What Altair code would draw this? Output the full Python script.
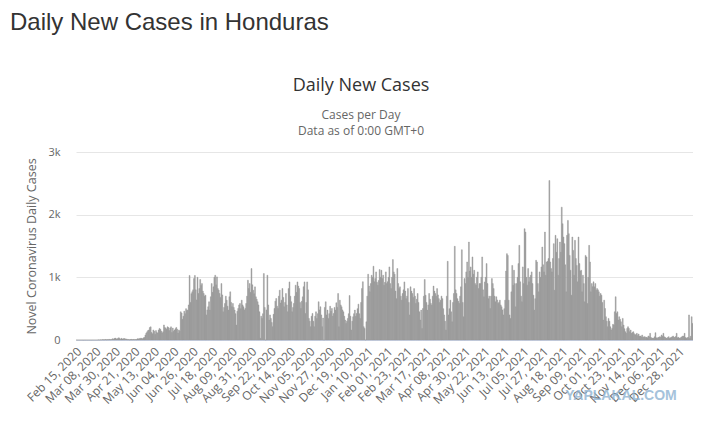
import altair as alt
import pandas as pd

# ---- data (daily new cases) ----
cases_2020 = [
    0, 0, 0, 0, 0, 0, 0, 0, 0, 0,
    0, 0, 0, 0, 0, 0, 0, 0, 0, 0,
    0, 0, 0, 0, 0, 2, 0, 3, 1, 4,
    6, 2, 5, 8, 3, 6, 4, 10, 5, 7,
    9, 20, 12, 25, 30, 18, 15, 28, 35, 22,
    10, 26, 14, 20, 24, 18, 12, 16, 5, 8,
    3, 6, 10, 4, 7, 9, 5, 8, 6, 20,
    15, 25, 18, 30, 22, 20, 35, 40, 80, 110,
    130, 150, 160, 200, 210, 120, 100, 160, 140, 90,
    150, 120, 110, 160, 185, 170, 140, 110, 130, 240,
    200, 190, 170, 210, 200, 150, 190, 210, 120, 190,
    140, 160, 180, 200, 170, 110, 160, 140,
    450, 430, 330, 380, 460, 420, 500, 470, 480, 560,
    1030, 600, 740, 770, 800, 980, 1030, 800, 640, 1000,
    742, 820, 965, 870, 900, 780, 742, 700, 715, 400,
    480, 530, 610, 477, 690, 900, 760, 848, 1000, 1033,
    880, 1007, 820, 795, 742, 680, 900, 720, 450, 520,
    583, 700, 636, 540, 477, 690, 768, 600, 530, 583,
    520, 477, 420, 238, 460, 503, 560, 583, 500, 636,
    560, 530, 480, 503, 583, 700, 954, 820, 900, 760,
    1140, 880, 795, 740, 848, 689, 650, 610, 560, 450,
    26, 380, 345, 420, 1060, 520, 0, 480, 1033, 560,
    318, 400, 345, 280, 212, 410, 503, 620, 662, 540,
    503, 700, 795, 590, 636, 821, 680, 530, 600, 742,
    560, 450, 820, 927, 700, 610, 450, 520, 583, 700,
    875, 760, 927, 860, 821, 600, 503, 620, 689, 850,
    927, 424, 600, 927,
    800, 345, 300, 212, 380, 424, 300, 212, 380, 450,
    345, 420, 610, 480, 530, 400, 212, 350, 0, 520,
    610, 400, 477, 345, 420, 540, 460, 503, 380, 424,
    520, 477, 594, 520, 742, 212, 636, 560, 530, 480,
    450, 380, 318, 265, 300, 345, 420, 710, 380, 160,
    300, 371, 420, 477, 380, 424, 500, 572, 420,
]
cases_2021 = [
    345,
    600, 822, 930, 212, 185, 0, 290, 700, 1050, 860,
    770, 900, 1033, 1000, 1177, 930, 980, 1087, 920, 875,
    950, 1124, 1000, 1113, 980, 1033, 875, 920, 1087, 900,
    930, 1000, 1166, 900, 820, 1000, 1283, 1087, 1050, 780,
    660,
    1140, 900, 820, 848, 700, 636, 742, 800, 927, 780,
    660, 700, 820, 600, 400, 848, 780, 742, 680, 820,
    700, 583, 650, 742, 600, 450, 318, 477, 185, 503,
    700, 965, 715, 600, 477, 560, 742, 650, 583, 556,
    700, 860, 780, 742, 700, 820, 720, 660, 600, 636,
    700, 660, 500, 400, 300, 160, 700, 1256, 400, 500,
    636, 450, 290, 600, 742, 1495, 800, 742, 660, 620,
    583, 700, 848, 1440, 600, 371, 980, 900, 1087, 1245,
    1000, 1563, 1100, 1166, 1000, 1325, 1050, 1113, 900, 875,
    1000, 1087, 820, 900, 900, 1000, 1325, 800, 690, 927,
    1000, 1219, 900, 660, 700, 503, 700, 980, 900, 820,
    700, 610, 690, 640, 583, 600, 636, 560, 530, 480,
    400, 500, 636,
    1100, 1378, 1350, 636, 400, 345, 768, 1190, 875, 1113,
    900, 530, 900, 1000, 1219, 1510, 928, 700, 610, 1166,
    900, 1776, 1722, 1000, 875, 1140, 928, 1000, 1033, 1087,
    900, 715, 477, 660, 1272, 1245, 900, 768, 1087, 1000,
    1166, 1484, 1200, 1087, 1722, 1033, 1245, 1256, 1300, 2544,
    1245, 1140, 1087, 1300, 1537, 795, 1670, 1400, 1616, 1033,
    1300, 1563, 1400, 2120, 1855, 1643, 1537, 1200, 768, 1670,
    1908, 1696, 1350, 1113, 715, 1643, 1430, 1033, 1590, 1300,
    1190, 928, 1643, 1219, 1100, 1113, 768, 1033, 900, 610,
    1350, 1325, 583, 1000, 1510, 1245, 768, 900, 850, 928,
    848, 900, 795, 820, 800, 768, 700, 742, 715, 600,
    318,
    636, 503, 371, 300, 212, 345, 300, 212, 159, 185,
    250, 238, 450, 690, 424, 450, 318, 371, 330, 291,
    212, 345, 238, 180, 133, 106, 185, 212, 185, 133,
    159, 106, 120, 133, 100, 80, 90, 106, 70, 95,
    60, 64, 50, 80, 42, 50, 53, 40, 42, 35,
    64, 50, 106, 40, 27, 30, 27, 50, 117, 35,
    27, 40, 42, 53, 45, 80, 60, 106, 50, 42,
    30, 27, 40, 53, 27, 35, 42, 50, 64, 40,
    42, 55, 106, 35, 42, 30, 27, 42, 50,
]
cases_2022 = [64, 60, 106, 40, 27, 35, 42, 400, 27, 60, 371, 265]

start_date = "2020-02-15"
label_step = 22
y_ticks = [0, 1000, 2000, 3000]
page_title = "Daily New Cases in Honduras"
chart_title = "Daily New Cases"
subtitle_text = "Cases per Day\nData as of 0:00 GMT+0"
y_title = "Novel Coronavirus Daily Cases"
watermark = "YAPLAKAL.COM"

cases = cases_2020 + cases_2021 + cases_2022
dates = pd.date_range(start_date, periods=len(cases), freq="D")
labels = [d.strftime("%b %d, %Y") for d in dates]
df = pd.DataFrame({"date": labels, "cases": cases})
tick_labels = labels[::label_step]

W, H = 617, 188
FONT = "Open Sans"
BAR = "#999999"

bars = alt.Chart(df).mark_bar(color=BAR, stroke=BAR, strokeWidth=0.45).encode(
    x=alt.X(
        "date:N", sort=None,
        scale=alt.Scale(paddingInner=0, paddingOuter=0),
        axis=alt.Axis(
            values=tick_labels, title=None, labelAngle=-45, labelAlign="right",
            labelBaseline="middle", labelPadding=9, labelOffset=3, labelOverlap=False,
            ticks=False, grid=False, domainColor="#ccd6eb", domainWidth=1,
            labelColor="#666666", labelFont=FONT, labelFontSize=12,
        ),
    ),
    y=alt.Y(
        "cases:Q",
        scale=alt.Scale(domain=[0, 3000], nice=False),
        axis=alt.Axis(
            values=y_ticks, labelExpr="datum.value == 0 ? '0' : (datum.value / 1000) + 'k'",
            title=y_title, domain=False, ticks=False,
            grid=True, gridColor="#e6e6e6", labelColor="#666666", labelFont=FONT,
            labelFontSize=11, labelPadding=16, titleFont=FONT, titleFontSize=12.5,
            titleFontWeight="normal", titleColor="#666666", titlePadding=9,
        ),
    ),
)

page_title_layer = alt.Chart(pd.DataFrame({"t": [page_title]})).mark_text(
    align="left", baseline="alphabetic", font="Liberation Sans", fontSize=24, color="#333333"
).encode(text="t:N", x=alt.value(-66), y=alt.value(-122))

chart_title_layer = alt.Chart(pd.DataFrame({"t": [chart_title]})).mark_text(
    align="center", baseline="alphabetic", font=FONT, fontSize=18, color="#333333"
).encode(text="t:N", x=alt.value(285), y=alt.value(-61))

subtitle_layer = alt.Chart(pd.DataFrame({"t": [subtitle_text]})).mark_text(
    align="center", baseline="alphabetic", font=FONT, fontSize=12, color="#666666",
    lineBreak="\n", lineHeight=16,
).encode(text="t:N", x=alt.value(285), y=alt.value(-33))

watermark_layer = alt.Chart(pd.DataFrame({"t": [watermark]})).mark_text(
    align="center", baseline="alphabetic", font="Liberation Sans", fontSize=14,
    fontWeight="bold", color="#8fb4d3", opacity=0.8,
).encode(text="t:N", x=alt.value(545), y=alt.value(248))

chart = alt.layer(
    bars, page_title_layer, chart_title_layer, subtitle_layer, watermark_layer
).properties(
    width=W, height=H,
    autosize=alt.AutoSizeParams(type="none"),
    padding={"left": 68, "top": 144, "right": 0, "bottom": 72},
    background="white",
).configure_view(stroke=None)

chart.save("out.html", embed_options={"renderer": "svg", "actions": False})
